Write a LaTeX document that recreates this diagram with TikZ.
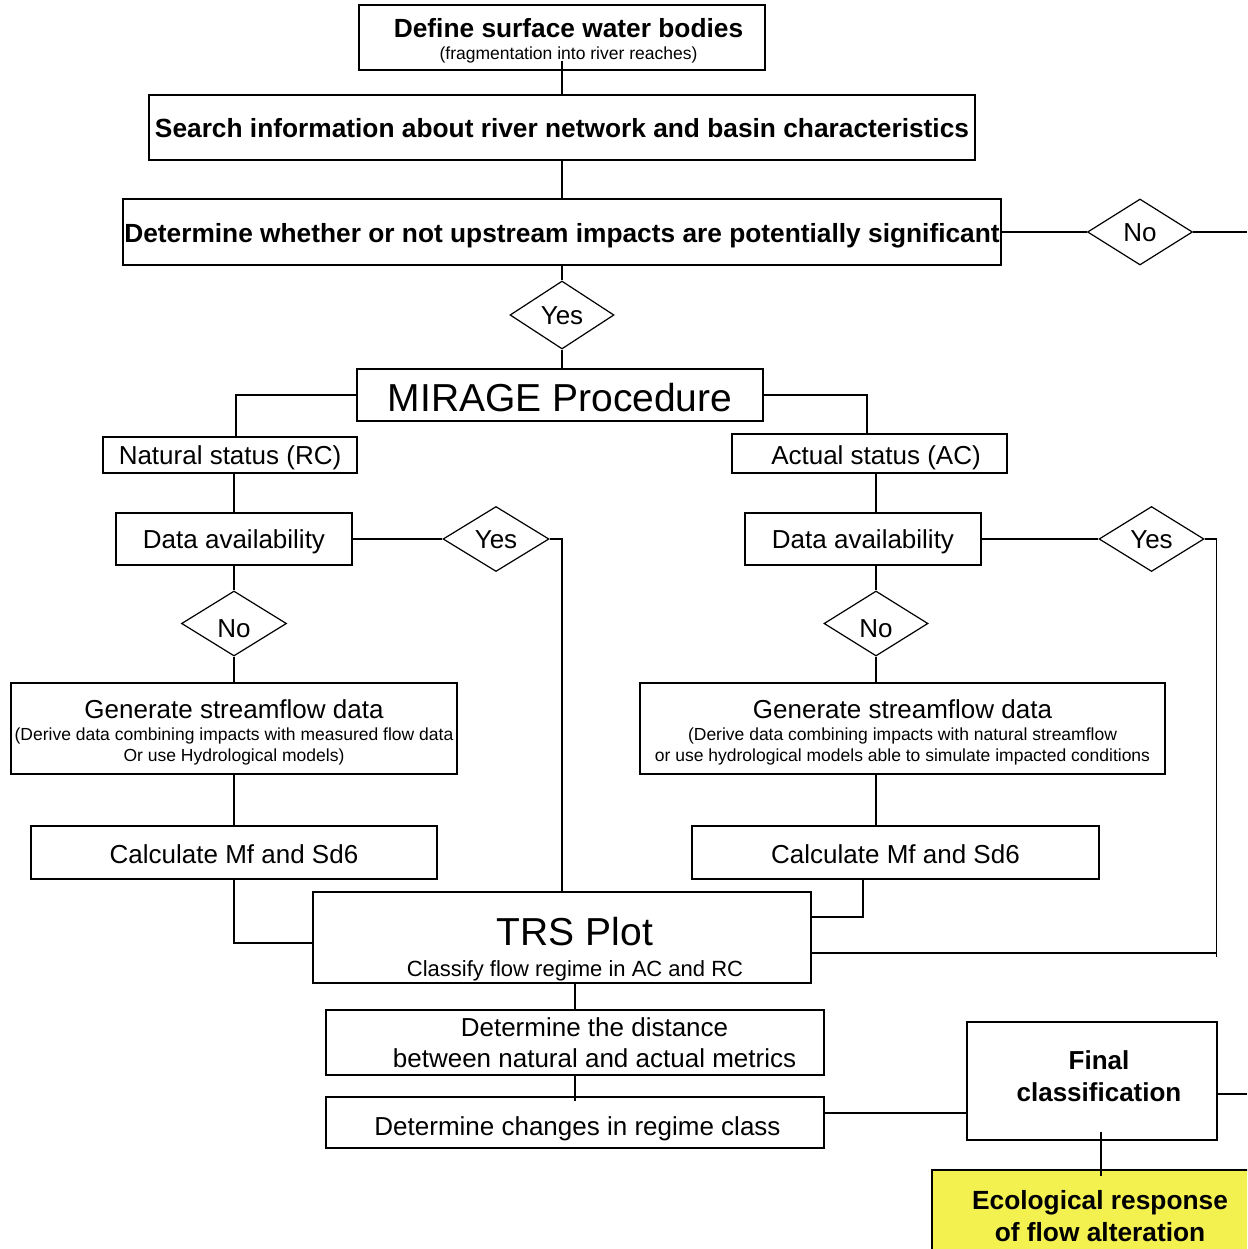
\documentclass[tikz,border=0pt]{standalone}
\usepackage{fontspec}
\setmainfont{Liberation Sans}
\usetikzlibrary{shapes.geometric,calc}
\definecolor{ecoyellow}{RGB}{243,241,79}
\newcommand{\smallsz}{\fontsize{17.5}{21}\selectfont}
\newcommand{\mainsz}{\fontsize{26}{31}\selectfont}
\newcommand{\boldsz}{\fontsize{26.3}{31}\selectfont}
\newcommand{\bigsz}{\fontsize{39}{44}\selectfont}
\tikzset{
  box/.style={draw, rectangle, line width=1.2pt, inner sep=0pt, align=center, font=\mainsz},
  bbox/.style={box, font=\bfseries\boldsz},
  oneline/.style={text height=#1, text depth=0pt},
  oneline/.default=18.6pt,
  dec/.style={draw, diamond, line width=1.2pt, inner sep=0pt, font=\mainsz},
  conn/.style={line width=1.2pt},
}
\begin{document}
\begin{tikzpicture}[x=1pt,y=-1pt]
\useasboundingbox (0,0) rectangle (1247,1249);
\fill[white] (0,0) rectangle (1247,1249);
\clip (0,0) rectangle (1247,1249);

% boxes
\node[box, font=\smallsz, minimum width=406pt, minimum height=65pt] (define) at (562,37.5)
  {\hspace*{13pt}{\bfseries\boldsz\rule{0pt}{25pt}Define surface water bodies}\\[1pt]\hspace*{13pt}(fragmentation into river reaches)};
\node[bbox, oneline=19.6pt, minimum width=826pt, minimum height=65pt] (search) at (562,127.5)
  {Search information about river network and basin characteristics};
\node[bbox, oneline=20.6pt, minimum width=878pt, minimum height=66pt] (determine) at (562,232)
  {Determine whether or not upstream impacts are potentially significant};
\node[dec, oneline, minimum width=105pt, minimum height=66pt] (no1) at (1140,232) {No};
\node[dec, oneline, minimum width=104pt, minimum height=68pt] (yes1) at (562,315) {Yes};
\node[box, font=\bigsz, oneline=32pt, minimum width=406pt, minimum height=52pt] (mirage) at (560,395) {MIRAGE Procedure};
\node[box, oneline, minimum width=254pt, minimum height=36pt] (natural) at (230,455) {Natural status (RC)};
\node[box, oneline=21.6pt, minimum width=275pt, minimum height=39pt] (actual) at (869.5,453.5) {\hspace*{13pt}Actual status (AC)};
\node[box, oneline, minimum width=236pt, minimum height=52pt] (dataL) at (234,539) {Data availability};
\node[dec, oneline, minimum width=106pt, minimum height=65pt] (yesL) at (496,539) {Yes};
\node[dec, oneline=27.6pt, minimum width=105pt, minimum height=65pt] (noL) at (234,623.5) {No};
\node[box, font=\smallsz, minimum width=446pt, minimum height=91pt] (genL) at (234,728.5)
  {{\mainsz\rule{0pt}{27pt}Generate streamflow data}\\[1pt](Derive data combining impacts with measured flow data\\Or use Hydrological models)};
\node[box, oneline=21.6pt, minimum width=406pt, minimum height=53pt] (calcL) at (234,852.5) {Calculate Mf and Sd6};
\node[box, font=\fontsize{22}{26}\selectfont, minimum width=498pt, minimum height=91pt] (trs) at (562,937.5)
  {\hspace*{26pt}{\bigsz\rule{0pt}{51.5pt}TRS Plot}\\[5pt]\hspace*{26pt}Classify flow regime in AC and RC};
\node[box, oneline, minimum width=236pt, minimum height=52pt] (dataR) at (863,539) {Data availability};
\node[dec, oneline, minimum width=105pt, minimum height=65pt] (yesR) at (1151.5,539) {Yes};
\node[dec, oneline=27.6pt, minimum width=104pt, minimum height=65pt] (noR) at (876,623.5) {No};
\node[box, font=\smallsz, minimum width=525pt, minimum height=91pt] (genR) at (902.5,728.5)
  {{\mainsz\rule{0pt}{27pt}Generate streamflow data}\\[1pt](Derive data combining impacts with natural streamflow\\or use hydrological models able to simulate impacted conditions};
\node[box, oneline=21.6pt, minimum width=407pt, minimum height=53pt] (calcR) at (895.5,852.5) {Calculate Mf and Sd6};
\node[box, minimum width=498pt, minimum height=65pt] (dist) at (575,1042.5)
  {\hspace*{39pt}Determine the distance\\\hspace*{39pt}between natural and actual metrics};
\node[box, oneline=25.6pt, minimum width=498pt, minimum height=51pt] (change) at (575,1122.5) {\hspace*{5pt}Determine changes in regime class};
\node[bbox, font=\bfseries\fontsize{26}{32}\selectfont, minimum width=250pt, minimum height=118pt] (final) at (1092,1081)
  {\hspace*{14pt}Final\\\hspace*{14pt}classification\rule[-10pt]{0pt}{10pt}};
\node[bbox, font=\bfseries\fontsize{26.3}{32}\selectfont, fill=ecoyellow, minimum width=336pt, minimum height=92pt] (eco) at (1100,1216)
  {Ecological response\\of flow alteration};

% connectors
\draw[conn] ($(define.south)+(0,-10)$) -- (search.north);
\draw[conn] (search.south) -- (determine.north);
\draw[conn] (determine.east) -- (no1.west);
\coordinate (rEdge1) at (1247,232);
\draw[conn] (no1.east) -- (rEdge1);
\draw[conn] (determine.south) -- (yes1.north);
\draw[conn] (yes1.south) -- (yes1.south |- mirage.north);
\draw[conn] (mirage.west) -| ($(natural.north)+(6,0)$);
\draw[conn] (mirage.east) -| ($(actual.north)+(-2.5,0)$);
\draw[conn] (dataL.north |- natural.south) -- (dataL.north);
\draw[conn] (dataL.east) -- (yesL.west);
\draw[conn] (yesL.east) -| (trs.north);
\draw[conn] (dataL.south) -- (noL.north);
\draw[conn] (noL.south) -- (genL.north);
\draw[conn] (genL.south) -- (calcL.north);
\draw[conn] (calcL.south) |- ($(trs.west)+(0,5.5)$);
\draw[conn] (noR.north |- actual.south) -- (noR.north |- dataR.north);
\draw[conn] (dataR.east) -- (yesR.west);
\draw[conn] (yesR.east) -| ($(trs.east)+(405,19.5)$);
\draw[conn] ($(trs.east)+(0,15.5)$) -- ($(trs.east)+(405,15.5)$);
\draw[conn] (noR.north |- dataR.south) -- (noR.north);
\draw[conn] (noR.south) -- (noR.south |- genR.north);
\draw[conn] (noR.south |- genR.south) -- (noR.south |- calcR.north);
\draw[conn] ($(calcR.south)+(-32.5,0)$) |- ($(trs.east)+(0,-20.5)$);
\draw[conn] (dist.north |- trs.south) -- (dist.north);
\draw[conn] (dist.south) -- ++(0,25);
\coordinate (chE) at ($(change.east)+(0,-9.5)$);
\draw[conn] (chE) -- (chE -| final.west);
\coordinate (fE) at ($(final.east)+(0,13)$);
\draw[conn] (fE) -- (fE -| rEdge1);
\draw[conn] ($(final.south)+(9,-9)$) -- ($(final.south)+(9,35)$);
\end{tikzpicture}
\end{document}
